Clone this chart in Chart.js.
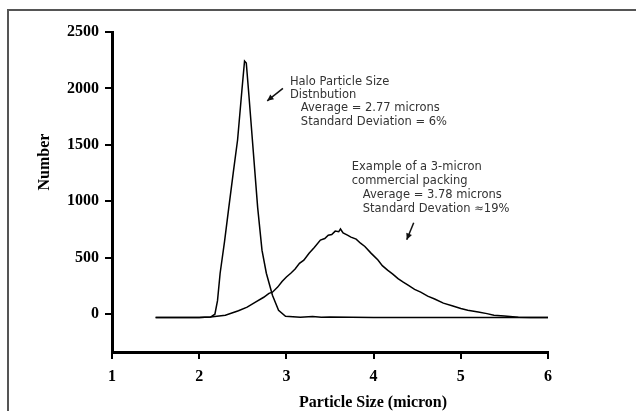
<!DOCTYPE html>
<html>
<head>
<meta charset="utf-8">
<script src="https://cdn.jsdelivr.net/npm/chart.js@4.4.1/dist/chart.umd.min.js"></script>
<style>
  html, body { margin: 0; padding: 0; background: #fff; }
  #wrap { width: 636px; height: 411px; }
</style>
</head>
<body>
<div id="wrap"><canvas id="grafico" width="636" height="411"></canvas></div>
<script>
// Dados (tamanho de particula em micron, contagem)
const haloX = [1.5, 2.0, 2.13, 2.18, 2.21, 2.24, 2.29, 2.34, 2.39, 2.44, 2.49, 2.52, 2.54, 2.57, 2.61, 2.67, 2.72, 2.77, 2.84, 2.91, 2.99, 3.16, 3.3, 3.4, 3.5, 4.0, 6.0];
const haloY = [-30, -30, -25, 0, 120, 363, 640, 949, 1250, 1543, 1986, 2243, 2225, 1940, 1543, 949, 567, 363, 168, 35, -18, -27, -20, -28, -25, -30, -30];

const comercialX = [1.5, 2.0, 2.13, 2.3, 2.45, 2.55, 2.65, 2.74, 2.8, 2.84, 2.9, 2.95, 3.0, 3.05, 3.1, 3.15, 3.2, 3.26, 3.32, 3.39, 3.44, 3.48, 3.52, 3.56, 3.6, 3.62, 3.65, 3.7, 3.74, 3.8, 3.85, 3.9, 3.97, 4.05, 4.1, 4.16, 4.22, 4.28, 4.34, 4.4, 4.47, 4.54, 4.62, 4.7, 4.8, 4.9, 5.0, 5.08, 5.2, 5.3, 5.38, 5.5, 5.66, 5.8, 6.0];
const comercialY = [-30, -30, -25, -10, 30, 62, 110, 150, 185, 195, 240, 290, 330, 363, 400, 450, 479, 540, 590, 656, 670, 700, 705, 736, 730, 755, 720, 700, 683, 665, 629, 600, 541, 480, 430, 390, 355, 315, 284, 255, 220, 195, 160, 135, 98, 75, 50, 35, 20, 5, -9, -15, -27, -30, -30];

const xTicks = [1, 2, 3, 4, 5, 6];
const yTicks = [0, 500, 1000, 1500, 2000, 2500];

// Textos das anotacoes
const haloTexto = ["Halo Particle Size", "Distnbution", "   Average = 2.77 microns", "   Standard Deviation = 6%"];
const comercialTexto = ["Example of a 3-micron", "commercial packing", "   Average = 3.78 microns", "   Standard Devation \u224819%"];

function toPoints(xs, ys) {
  return xs.map((x, i) => ({ x: x, y: ys[i] }));
}

// Desenha seta simples
function seta(ctx, x1, y1, x2, y2) {
  const ang = Math.atan2(y2 - y1, x2 - x1);
  ctx.beginPath();
  ctx.moveTo(x1, y1);
  ctx.lineTo(x2, y2);
  ctx.stroke();
  ctx.beginPath();
  ctx.moveTo(x2, y2);
  ctx.lineTo(x2 - 7 * Math.cos(ang - 0.45), y2 - 7 * Math.sin(ang - 0.45));
  ctx.lineTo(x2 - 7 * Math.cos(ang + 0.45), y2 - 7 * Math.sin(ang + 0.45));
  ctx.closePath();
  ctx.fill();
}

// Plugin para moldura, titulos dos eixos e anotacoes
const extras = {
  id: "extras",
  afterDraw(chart) {
    const ctx = chart.ctx;
    const xs = chart.scales.x;
    const ys = chart.scales.y;
    ctx.save();

    // moldura
    ctx.strokeStyle = "#555";
    ctx.lineWidth = 2;
    ctx.beginPath();
    ctx.moveTo(8, 411);
    ctx.lineTo(8, 10);
    ctx.lineTo(636, 10);
    ctx.stroke();

    // titulos dos eixos
    ctx.fillStyle = "#000";
    ctx.font = "bold 16px 'Liberation Serif'";
    ctx.textAlign = "center";
    ctx.textBaseline = "middle";
    ctx.fillText("Particle Size (micron)", 373, 403);
    ctx.save();
    ctx.translate(45, 162);
    ctx.rotate(-Math.PI / 2);
    ctx.fillText("Number", 0, 0);
    ctx.restore();

    // anotacoes
    ctx.fillStyle = "#333";
    ctx.font = "11.5px 'DejaVu Sans'";
    ctx.textAlign = "left";
    haloTexto.forEach((t, i) => {
      ctx.fillText(t, xs.getPixelForValue(3.04), ys.getPixelForValue(2060) + i * 13.3);
    });
    comercialTexto.forEach((t, i) => {
      ctx.fillText(t, xs.getPixelForValue(3.75), ys.getPixelForValue(1300) + i * 13.8);
    });

    ctx.strokeStyle = "#111";
    ctx.fillStyle = "#111";
    ctx.lineWidth = 1.5;
    seta(ctx, xs.getPixelForValue(2.96), ys.getPixelForValue(2000), xs.getPixelForValue(2.78), ys.getPixelForValue(1890));
    seta(ctx, xs.getPixelForValue(4.46), ys.getPixelForValue(810), xs.getPixelForValue(4.38), ys.getPixelForValue(660));

    ctx.restore();
  }
};

const ctxGrafico = document.getElementById("grafico").getContext("2d");
const grafico = new Chart(ctxGrafico, {
  type: "scatter",
  data: {
    datasets: [
      {
        label: "Halo",
        data: toPoints(haloX, haloY),
        showLine: true,
        borderColor: "#000",
        borderWidth: 1.5,
        pointRadius: 0,
        tension: 0,
      },
      {
        label: "3-micron commercial",
        data: toPoints(comercialX, comercialY),
        showLine: true,
        borderColor: "#000",
        borderWidth: 1.5,
        pointRadius: 0,
        tension: 0,
      },
    ],
  },
  options: {
    responsive: false,
    animation: false,
    layout: { padding: { left: 0, right: 88, top: 32, bottom: 0 } },
    plugins: {
      legend: { display: false },
      tooltip: { enabled: false },
    },
    scales: {
      x: {
        type: "linear",
        min: 1,
        max: 6,
        afterBuildTicks: (scale) => { scale.ticks = xTicks.map((v) => ({ value: v })); },
        afterFit: (scale) => { scale.height = 411 - 352; },
        border: { color: "#000", width: 3 },
        grid: { drawOnChartArea: false, color: "#000", lineWidth: 2, tickLength: 7 },
        ticks: {
          color: "#000",
          padding: 8,
          maxRotation: 0,
          callback: (v) => String(v),
          font: { family: "'Liberation Serif'", size: 16, weight: "bold" },
        },
      },
      y: {
        type: "linear",
        min: -335,
        max: 2500,
        afterBuildTicks: (scale) => { scale.ticks = yTicks.map((v) => ({ value: v })); },
        afterFit: (scale) => { scale.width = 112; },
        border: { color: "#000", width: 3 },
        grid: { drawOnChartArea: false, color: "#000", lineWidth: 2, tickLength: 7 },
        ticks: {
          color: "#000",
          padding: 6,
          callback: (v) => String(v),
          font: { family: "'Liberation Serif'", size: 16, weight: "bold" },
        },
      },
    },
  },
  plugins: [extras],
});
</script>
</body>
</html>
